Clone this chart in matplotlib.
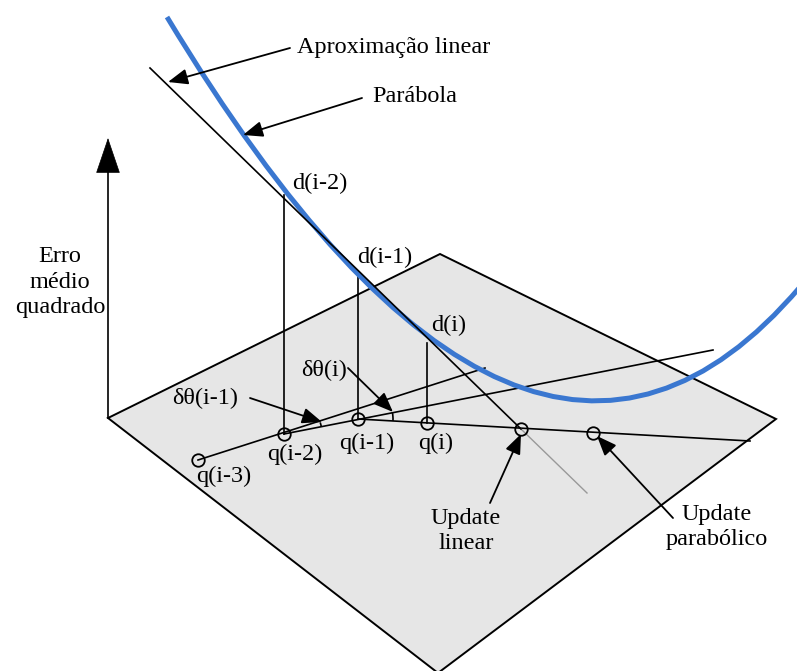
import numpy as np
import matplotlib
matplotlib.use('Agg')
from matplotlib import pyplot as plt
from matplotlib.path import Path
from matplotlib.patches import PathPatch, Polygon, Arc

plt.rcParams['font.family'] = ['Liberation Serif', 'DejaVu Serif']

#%% Diagram data (image pixel coordinates, y downwards)

plane_x = [108, 440, 776, 438]
plane_y = [418, 254, 419, 673]

# parabola as quadratic Bezier control points
parab_x = [167, 525, 800]
parab_y = [17, 610, 287]

# linear approximation line, black part then grey continuation
lin_x = [150, 521, 587]
lin_y = [68, 429, 493]

# q points on the plane
q_names = ['q(i-3)', 'q(i-2)', 'q(i-1)', 'q(i)']
q_x = [198, 284, 358, 427]
q_y = [460, 434, 419, 423]

# d points on the curve (tops of vertical drops)
d_names = ['d(i-2)', 'd(i-1)', 'd(i)']
d_x = [284, 358, 427]
d_y = [195, 277, 343]

# updates
upd_x = [521, 593]
upd_y = [429, 433]

# end points of extended direction lines
ext_x = [485, 713, 750]
ext_y = [368, 350, 441]

#%% Plot

fig = plt.figure(figsize=(7.97, 6.71), dpi=100)
ax = fig.add_axes([0, 0, 1, 1])
ax.set_xlim(0, 797)
ax.set_ylim(671, 0)
ax.axis('off')

lw = 1.2
fs = 17.5

ax.add_patch(Polygon(np.column_stack([plane_x, plane_y]), closed=True,
                     facecolor='#e6e6e6', edgecolor='black', lw=1.4, zorder=1))

# vertical axis
ax.plot([108, 108], [418, 165], color='black', lw=lw, zorder=2)
ax.annotate('', xy=(108, 138), xytext=(108, 172),
            arrowprops=dict(arrowstyle='-|>,head_length=1.0,head_width=0.34',
                            color='black', lw=0.5, shrinkA=0, shrinkB=0,
                            mutation_scale=24),
            zorder=3)
ax.text(60, 282, 'Erro\nmédio\nquadrado', fontsize=fs, ha='center', va='center',
        multialignment='center', linespacing=1.27)

# direction lines on the plane
for i in range(3):
    ax.plot([q_x[i], ext_x[i]], [q_y[i], ext_y[i]], color='black', lw=lw, zorder=2)

# angle arcs between successive direction lines
for i, r in [(1, 38), (2, 35)]:
    a1 = np.degrees(np.arctan2(ext_y[i-1] - q_y[i-1], ext_x[i-1] - q_x[i-1]))
    a2 = np.degrees(np.arctan2(ext_y[i] - q_y[i], ext_x[i] - q_x[i]))
    lo, hi = sorted([a1, a2])
    ax.add_patch(Arc((q_x[i], q_y[i]), 2*r, 2*r, theta1=lo, theta2=hi,
                     color='black', lw=lw, zorder=2))

# vertical drops
for i in range(3):
    ax.plot([d_x[i], q_x[i+1]], [d_y[i], q_y[i+1]], color='black', lw=lw, zorder=2)

# parabola
verts = list(zip(parab_x, parab_y))
ax.add_patch(PathPatch(Path(verts, [Path.MOVETO, Path.CURVE3, Path.CURVE3]),
                       facecolor='none', edgecolor='#3a77d0', lw=3.6, zorder=3,
                       capstyle='butt'))

# linear approximation
ax.plot(lin_x[:2], lin_y[:2], color='black', lw=lw, zorder=4)
ax.plot(lin_x[1:], lin_y[1:], color='#999999', lw=1.0, zorder=2)

# markers
ax.plot(q_x + upd_x, q_y + upd_y, 'o', ms=9, mfc='none', mec='black', mew=1.3, zorder=5)

# labels
for name, x, y in zip(d_names, [292, 357, 431], [183, 257, 325]):
    ax.text(x, y, name, fontsize=fs, ha='left', va='center')
for name, x, y in zip(q_names, [224, 295, 367, 436], [476, 454, 443, 443]):
    ax.text(x, y, name, fontsize=fs, ha='center', va='center')
ax.text(172, 398, 'δθ(i-1)', fontsize=fs, ha='left', va='center')
ax.text(301, 370, 'δθ(i)', fontsize=fs, ha='left', va='center')
ax.text(297, 48, 'Aproximação linear', fontsize=fs, ha='left', va='center')
ax.text(372, 97, 'Parábola', fontsize=fs, ha='left', va='center')
ax.text(466, 531, 'Update\nlinear', fontsize=fs, ha='center', va='center',
        multialignment='center', linespacing=1.25)
ax.text(717, 527, 'Update\nparabólico', fontsize=fs, ha='center', va='center',
        multialignment='center', linespacing=1.25)

# annotation arrows
arrows = [((290, 48), (168, 82)),
          ((362, 98), (243, 135)),
          ((250, 398), (322, 422)),
          ((348, 368), (393, 412)),
          ((490, 503), (521, 434)),
          ((673, 518), (597, 436))]
for tail, tip in arrows:
    ax.annotate('', xy=tip, xytext=tail,
                arrowprops=dict(arrowstyle='-|>,head_length=1.0,head_width=0.4',
                                color='black', lw=1.3, shrinkA=0, shrinkB=0,
                                mutation_scale=12),
                zorder=6)

plt.savefig('out.png', dpi=100)
